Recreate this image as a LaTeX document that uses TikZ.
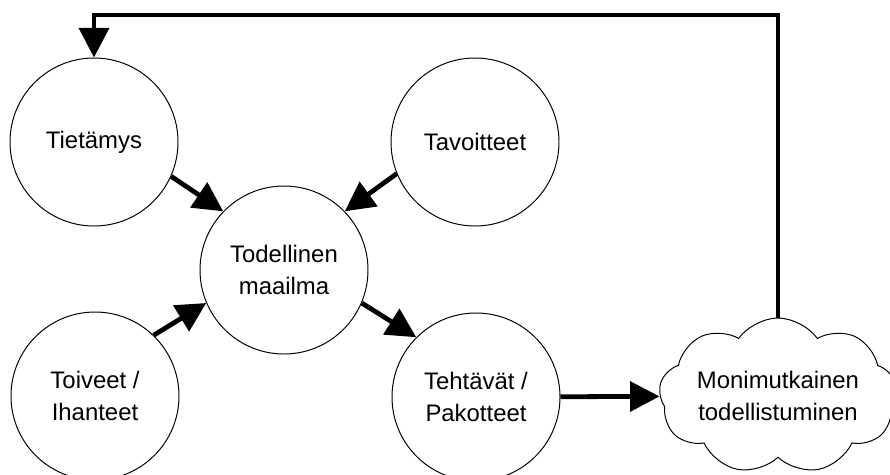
\documentclass[tikz,border=0pt]{standalone}
\usepackage{fontspec}
\setmainfont{Liberation Sans}
\usetikzlibrary{arrows.meta,shapes.symbols}

\begin{document}
\begin{tikzpicture}[scale=0.25]
\tikzstyle{every node}+=[inner sep=0pt, font=\fontsize{17}{22.6}\selectfont, align=center]
\tikzstyle{ympyra}=[draw=black, line width=0.7pt, circle, minimum size=4.2cm]
\tikzstyle{nuoli}=[black, line width=3.4pt, -{Triangle[length=21pt,width=21pt]}]
\useasboundingbox (0,0) rectangle (89,-47.4);
\node [ympyra] (tietamys) at (9.4,-14.2) {Tietämys};
\node [ympyra] (tavoitteet) at (47.5,-14.2) {Tavoitteet};
\node [ympyra] (todellinen) at (28.4,-27) {Todellinen\\maailma};
\node [ympyra] (toiveet) at (9.5,-39.6) {Toiveet /\\Ihanteet};
\node [ympyra] (tehtavat) at (47.6,-39.7) {Tehtävät /\\Pakotteet};
\node [draw=black, line width=0.7pt, cloud, cloud puffs=9, cloud puff arc=110, cloud ignores aspect, minimum width=5.95cm, minimum height=3.9cm] (pilvi) at (77.8,-39.6) {Monimutkainen\\todellistuminen};
\coordinate (kulma) at (9.4,-1.5);
\draw [nuoli] (tietamys.-24) -- (todellinen.136);
\draw [nuoli] (tavoitteet.202) -- (todellinen.44);
\draw [nuoli] (toiveet.46) -- (todellinen.203);
\draw [nuoli] (todellinen.-23) -- (tehtavat.135);
\draw [nuoli] (tehtavat) -- (pilvi);
\draw [nuoli] (pilvi.north) |- (kulma) -- (tietamys.north);
\end{tikzpicture}
\end{document}
